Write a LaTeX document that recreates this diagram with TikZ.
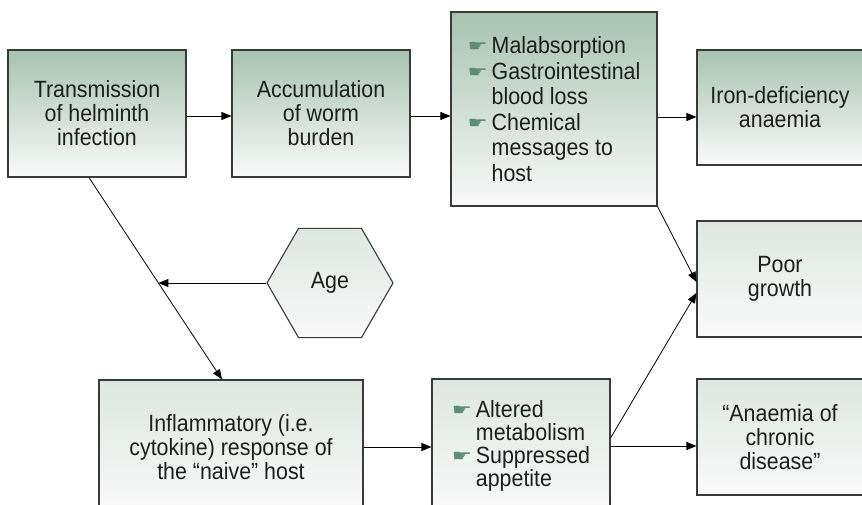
\documentclass[tikz,border=0pt]{standalone}
\usepackage{fontspec}
\setmainfont{Liberation Sans}[FakeStretch=0.91]
\newfontfamily\handfont{DejaVu Sans}
\usetikzlibrary{arrows.meta,shapes.geometric,calc}
\definecolor{topdark}{HTML}{A6C3B1}
\definecolor{toplight}{HTML}{DDE7E0}
\definecolor{botc}{HTML}{FAFAFA}
\definecolor{edgec}{HTML}{3A3A3A}
\definecolor{handc}{HTML}{5E8C78}
\definecolor{txtc}{HTML}{1E1E1E}
\newcommand{\bul}{\makebox[24pt][l]{\raisebox{2pt}{\scalebox{1.25}[0.9]{\handfont\fontsize{18}{18}\selectfont\color{handc}☛}}}}
\newcommand{\ind}{\hspace*{24pt}}
\begin{document}
\begin{tikzpicture}[x=1pt,y=-1pt,
  boxbase/.style={draw=edgec, line width=1.1pt, inner sep=0pt, font=\fontsize{23.5}{24}\selectfont, align=center, text=txtc},
  darkbox/.style={boxbase, top color=topdark, bottom color=botc},
  lightbox/.style={boxbase, top color=toplight, bottom color=botc},
  arr/.style={-{Triangle[length=10pt,width=8pt]}, line width=0.8pt}
]
\useasboundingbox (0,0) rectangle (862,505);
\clip (0,0) rectangle (862,505);

\node[darkbox, minimum width=178pt, minimum height=127pt] (B1) at (97,113.5) {Transmission\\of helminth\\infection};
\node[darkbox, minimum width=178pt, minimum height=127pt] (B2) at (321,113.5) {Accumulation\\of worm\\burden};
\node[darkbox, minimum width=206pt, minimum height=194pt, align=left, font=\fontsize{23.5}{25.5}\selectfont] (B3) at (554,109)
  {\bul Malabsorption\\ \bul Gastrointestinal\\ \ind blood loss\\ \bul Chemical\\ \ind messages to\\ \ind host};
\node[darkbox, minimum width=166pt, minimum height=115pt] (B4) at (780,107.5) {Iron-deficiency\\anaemia};
\node[lightbox, minimum width=166pt, minimum height=116pt] (B5) at (780,279) {Poor\\growth};
\node[lightbox, minimum width=166pt, minimum height=116pt] (B6) at (780,437) {“Anaemia of\\chronic\\disease”};
\node[lightbox, regular polygon, regular polygon sides=6, minimum size=126pt] (Age) at (330,283) {Age};
\node[lightbox, minimum width=264pt, minimum height=134pt] (B7) at (231,447) {Inflammatory (i.e.\\cytokine) response of\\the “naive” host};
\node[lightbox, minimum width=178pt, minimum height=134pt, align=left, font=\fontsize{23.5}{23}\selectfont] (B8) at (521,446)
  {\bul Altered\\ \ind metabolism\\ \bul Suppressed\\ \ind appetite};

\coordinate (row) at (0,116);
\coordinate (row2) at (0,117);
\draw[arr] (B1.east |- row) -- (B2.west |- row);
\draw[arr] (B2.east |- row) -- (B3.west |- row);
\draw[arr] (B3.east |- row2) -- (B4.west |- row2);
\coordinate (d1) at ($(B1.south west)!0.455!(B1.south east)$);
\coordinate (d2) at ($(B7.north west)!0.466!(B7.north east)$);
\draw[arr] (d1) -- (d2);
\coordinate (dm) at ($(d1)!0.522!(d2)$);
\draw[arr] (Age.west) -- (Age.west -| dm);
\draw[arr] (B3.south east) -- ([yshift=-3pt]B5.west);
\draw[arr] ([yshift=8pt]B8.east) -- ([yshift=-14pt]B5.west);
\draw[arr] (B8.east) -- (B8.east -| B6.west);
\draw[arr] (B7.east) -- (B7.east -| B8.west);
\end{tikzpicture}
\end{document}
